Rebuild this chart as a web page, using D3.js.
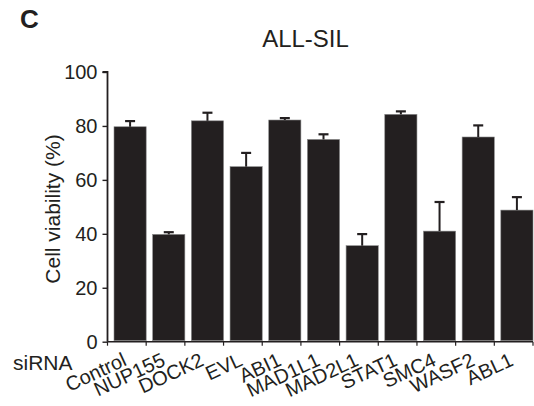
<!DOCTYPE html>
<html><head><meta charset="utf-8">
<script src="https://cdn.jsdelivr.net/npm/d3@7"></script>
<style>body{margin:0;background:#fff}svg{display:block}text{font-family:"Liberation Sans",Arial,sans-serif;fill:#231f20}</style>
</head><body>
<script>
const categories = ["Control","NUP155","DOCK2","EVL","ABI1","MAD1L1","MAD2L1","STAT1","SMC4","WASF2","ABL1"];
const means = [79.7, 39.8, 81.9, 64.9, 82.2, 75.0, 35.6, 84.3, 41.0, 75.9, 48.8];
const errors = [2.1, 0.8, 3.0, 5.1, 0.7, 1.9, 4.3, 1.1, 10.8, 4.3, 4.8];
const yTicks = [0, 20, 40, 60, 80, 100];

const W = 534, H = 406;
const svg = d3.select("body").append("svg").attr("width", W).attr("height", H);
const ink = "#231f20";
const FONT = '"Liberation Sans",Arial,sans-serif';

const x = d3.scaleBand().domain(categories).range([107.5, 533]);
const y = d3.scaleLinear().domain([0, 100]).range([341.7, 72]);
const step = x.step();
const gap = 5.5;

// bars
svg.append("g").selectAll("rect").data(categories).join("rect")
  .attr("x", (d) => x(d) + gap + 1)
  .attr("width", step - gap - 1)
  .attr("y", (d, i) => y(means[i]))
  .attr("height", (d, i) => y(0) - y(means[i]) - 1)
  .attr("fill", ink).attr("stroke", "#8a8a8a").attr("stroke-width", 0.6);

// error bars
const eg = svg.append("g").attr("stroke", ink).attr("stroke-width", 2);
categories.forEach((c, i) => {
  const cx = x(c) + gap + 1 + (step - gap - 1) / 2;
  eg.append("line").attr("x1", cx).attr("x2", cx).attr("y1", y(means[i])).attr("y2", y(means[i] + errors[i]));
  eg.append("line").attr("x1", cx - 5).attr("x2", cx + 5).attr("y1", y(means[i] + errors[i])).attr("y2", y(means[i] + errors[i])).attr("stroke-width", 2.2);
});

// y axis
const ya = svg.append("g").attr("transform", "translate(107.5,0)")
  .call(d3.axisLeft(y).tickValues(yTicks).tickSize(5).tickPadding(5));
ya.select(".domain").attr("stroke", ink).attr("stroke-width", 1.8).attr("d", `M-5,${y(100)}H0V${y(0)}`);
ya.selectAll(".tick line").attr("stroke", ink).attr("stroke-width", 1.4);
ya.selectAll(".tick text").attr("font-size", 20).attr("fill", ink).style("font-family", FONT);

// x axis line and ticks
const xa = svg.append("g");
xa.append("line").attr("x1", 107.5).attr("x2", 533).attr("y1", y(0)).attr("y2", y(0)).attr("stroke", ink).attr("stroke-width", 1.4);
const bounds = categories.map(c => x(c)).concat([x(categories[categories.length-1]) + step]);
xa.selectAll("line.t").data(bounds).join("line").attr("class", "t")
  .attr("x1", d => d).attr("x2", d => d).attr("y1", y(0)).attr("y2", y(0) + 4)
  .attr("stroke", ink).attr("stroke-width", 1.2);

// x labels rotated
svg.append("g").selectAll("text").data(categories).join("text")
  .attr("transform", (d) => `translate(${x(d) + step / 2 + 1},${y(0) + 23}) rotate(-25)`)
  .attr("text-anchor", "end").attr("font-size", 20)
  .text(d => d);

svg.append("text").attr("x", 13).attr("y", 370).attr("font-size", 21).text("siRNA");

// y title
svg.append("text").attr("transform", "translate(60,209) rotate(-90)")
  .attr("text-anchor", "middle").attr("font-size", 21).text("Cell viability (%)");

// title
svg.append("text").attr("x", 305.5).attr("y", 46.5).attr("text-anchor", "middle").attr("font-size", 24).text("ALL-SIL");

// panel letter
svg.append("text").attr("x", 20).attr("y", 28).attr("font-size", 26).attr("font-weight", "bold").text("C");
</script>
</body></html>
